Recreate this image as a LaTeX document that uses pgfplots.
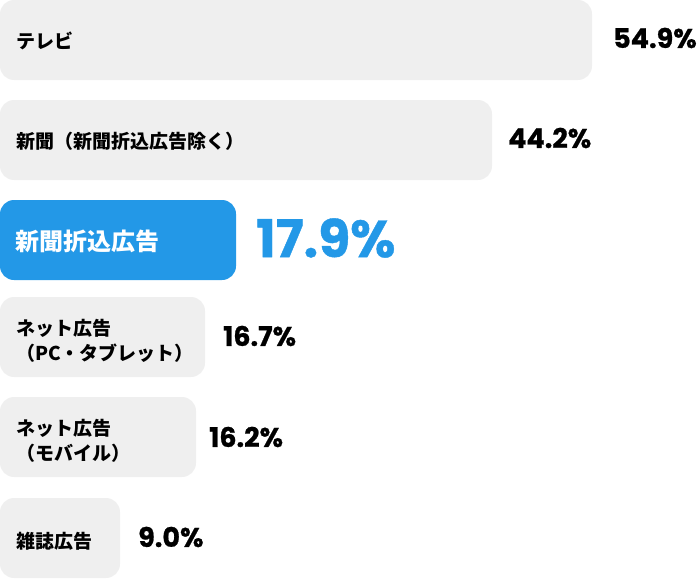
\documentclass[border=0pt]{standalone}
\usepackage{pgfplots}
\pgfplotsset{compat=1.18}
\usepackage{pgfplotstable}
\usepackage{fontspec}
\newfontfamily\jp{Noto Sans CJK JP}
\newfontfamily\pop{Poppins}[BoldFeatures={FakeBold=0.8}]
\definecolor{barg}{HTML}{EFEFEF}
\definecolor{bblue}{HTML}{2398E7}
% y = bar centre (px from top), len = drawn bar end (px), val = share in %
\pgfplotstableread{
y   len  val
40  592  54.9
140 492  44.2
337 205  16.7
437 196  16.2
538 120  9.0
}\greydata
\pgfplotstableread{
y   len  val
240 236  17.9
}\bluedata
\begin{document}
\begin{tikzpicture}
\useasboundingbox (0,0) rectangle (698pt,578pt);
\begin{axis}[
  at={(0,0)}, anchor=south west,
  width=698pt, height=578pt, scale only axis,
  xmin=16, xmax=714, ymin=0, ymax=578, y dir=reverse,
  axis lines=none, clip=true,
  xbar, bar width=80pt, bar shift=0pt,
]
\addplot[fill=barg, draw=none, rounded corners=14pt] table[x expr=\thisrow{len}+16, y=y] {\greydata};
\addplot[fill=bblue, draw=none, rounded corners=14pt] table[x expr=\thisrow{len}+16, y=y] {\bluedata};

% category labels
\node[anchor=west, inner sep=0pt, font=\jp\bfseries\fontsize{19pt}{25pt}\selectfont] at (axis cs:32,41) {テレビ};
\node[anchor=west, inner sep=0pt, font=\jp\bfseries\fontsize{19pt}{25pt}\selectfont] at (axis cs:32,141) {新聞（新聞折込広告除く）};
\node[anchor=west, inner sep=0pt, text=white, font=\jp\bfseries\fontsize{24pt}{28pt}\selectfont] at (axis cs:31,241) {新聞折込広告};
\node[anchor=west, inner sep=0pt, align=left, font=\jp\bfseries\fontsize{19pt}{25pt}\selectfont] at (axis cs:32,341) {ネット広告\\（PC・タブレット）};
\node[anchor=west, inner sep=0pt, align=left, font=\jp\bfseries\fontsize{19pt}{25pt}\selectfont] at (axis cs:32,441) {ネット広告\\（モバイル）};
\node[anchor=west, inner sep=0pt, font=\jp\bfseries\fontsize{19pt}{25pt}\selectfont] at (axis cs:32,541) {雑誌広告};

% values
\node[anchor=west, inner sep=0pt, font=\pop\bfseries\fontsize{27pt}{30pt}\selectfont] at (axis cs:629,38) {54.9\%};
\node[anchor=west, inner sep=0pt, font=\pop\bfseries\fontsize{27pt}{30pt}\selectfont] at (axis cs:524,138) {44.2\%};
\node[anchor=west, inner sep=0pt, text=bblue, font=\pop\bfseries\fontsize{52pt}{55pt}\selectfont] at (axis cs:272,238) {17.9\%};
\node[anchor=west, inner sep=0pt, font=\pop\bfseries\fontsize{27pt}{30pt}\selectfont] at (axis cs:239,336) {16.7\%};
\node[anchor=west, inner sep=0pt, font=\pop\bfseries\fontsize{27pt}{30pt}\selectfont] at (axis cs:225,437) {16.2\%};
\node[anchor=west, inner sep=0pt, font=\pop\bfseries\fontsize{27pt}{30pt}\selectfont] at (axis cs:154,537) {9.0\%};
\end{axis}
\end{tikzpicture}
\end{document}
